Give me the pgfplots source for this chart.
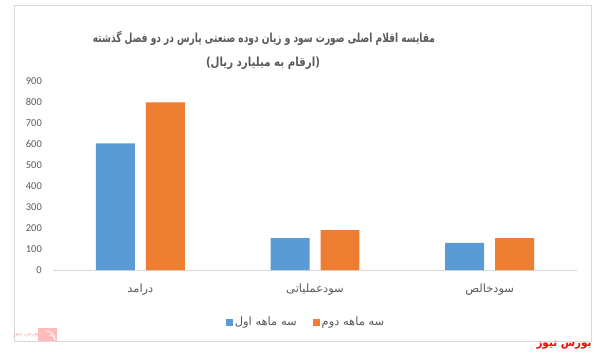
\documentclass[border=0pt]{standalone}
\usepackage{pgfplots}
\pgfplotsset{compat=1.18}
\usepackage{fontspec}
\setmainfont{Carlito}
\newfontfamily\arabicfont[Script=Arabic]{DejaVu Sans}
\TeXXeTstate=1
\definecolor{cblue}{HTML}{5B9BD5}
\definecolor{corange}{HTML}{ED7D31}
\definecolor{ctext}{HTML}{595959}
\definecolor{cgrid}{HTML}{D9D9D9}
\begin{document}
\begin{tikzpicture}[x=1bp,y=1bp]
\useasboundingbox (0,0) rectangle (597,357);
\draw[cgrid, line width=0.8bp] (14,16) rectangle (591,352);
% titles
\node[text=ctext, font=\arabicfont\bfseries\fontsize{12.5}{14}\selectfont] at (264,319) {\resizebox{342bp}{\height}{\beginR مقایسه اقلام اصلی صورت سود و زیان دوده صنعتی پارس در دو فصل گذشته\endR}};
\node[text=ctext, font=\arabicfont\bfseries\fontsize{12.5}{14}\selectfont] at (263,294) {\resizebox{114bp}{\height}{\beginR (ارقام به میلیارد ریال)\endR}};
% footer
\node[text=red, font=\arabicfont\bfseries\fontsize{11}{12}\selectfont, inner sep=0pt] at (564,12) {\resizebox{55bp}{\height}{\beginR بورس نیوز\endR}};
\fill[red!45, opacity=0.6] (38,16) rectangle (57,29);
\draw[white, line width=1bp, opacity=0.8] (55,17) arc (0:90:9);
\draw[white, line width=1bp, opacity=0.8] (55,17) arc (0:90:5);
\node[text=red!45, opacity=0.7, font=\arabicfont\fontsize{6}{7}\selectfont] at (26,22) {\beginR بورس نیوز\endR};
\begin{axis}[
  at={(53bp,87bp)}, anchor=south west,
  scale only axis, width=524bp, height=188.5bp,
  xmin=-0.5, xmax=2.5, ymin=0, ymax=900,
  axis line style={draw=none},
  major tick length=0pt,
  ytick={0,100,...,900},
  xtick={0,1,2},
  xticklabels={{\beginR درامد\endR},{\beginR سودعملیاتی\endR},{\beginR سودخالص\endR}},
  xticklabel style={font=\arabicfont\fontsize{11.5}{13}\selectfont, text=ctext, anchor=center, yshift=-20bp},
  yticklabel style={font=\fontsize{10.5}{12}\selectfont, text=ctext, anchor=east, inner sep=0pt, xshift=-11bp},
  /pgf/number format/assume math mode=true,
  ybar, bar width=0.223,
  legend style={at={(0.483,-0.276)}, anchor=center, legend columns=2, draw=none,
    font=\arabicfont\fontsize{11.5}{13}\selectfont, text=ctext,
    /tikz/every even column/.style={column sep=14bp}},
  legend image code/.code={\fill[#1] (0bp,-3.5bp) rectangle (7bp,3.5bp);},
  clip=false,
]
\draw[cgrid, line width=0.8bp] (axis cs:-0.5,0) -- (axis cs:2.5,0);
\addplot[fill=cblue, draw=none, bar shift=-0.143] coordinates {(0,605) (1,152) (2,129)};
\addlegendentry{\beginR سه ماهه اول\endR}
\addplot[fill=corange, draw=none, bar shift=0.143] coordinates {(0,800) (1,190) (2,152)};
\addlegendentry{\beginR سه ماهه دوم\endR}
\end{axis}
\end{tikzpicture}
\end{document}
